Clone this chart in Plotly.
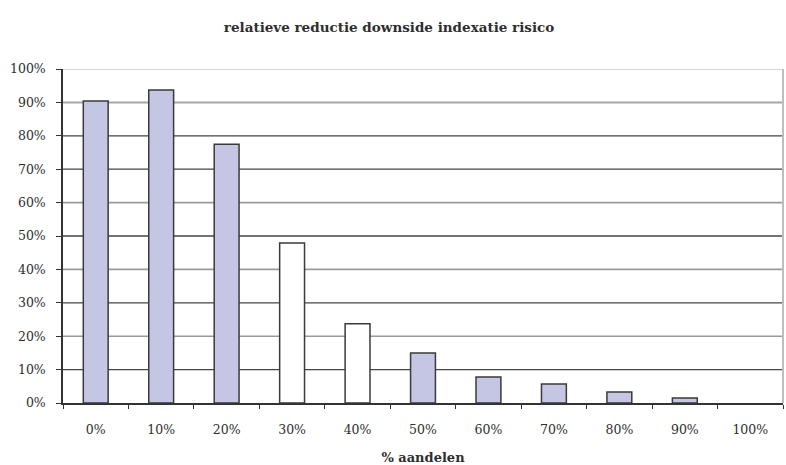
import plotly.graph_objects as go

# Share of equities in the portfolio and relative reduction of downside indexation risk
categories = ["0%", "10%", "20%", "30%", "40%", "50%", "60%", "70%", "80%", "90%", "100%"]
reduction = [0.904, 0.937, 0.775, 0.479, 0.237, 0.150, 0.078, 0.057, 0.033, 0.015, 0.0]
y_ticks = [i / 10 for i in range(11)]
y_tick_labels = [f"{i * 10}%" for i in range(11)]

# Bar styling: the 30% and 40% columns are drawn hollow; an empty bar gets no outline
LAVENDER = "#c4c6e3"
fill_colors = [LAVENDER, LAVENDER, LAVENDER, "#ffffff", "#ffffff",
               LAVENDER, LAVENDER, LAVENDER, LAVENDER, LAVENDER, LAVENDER]
outline_widths = [1.5 if v > 0 else 0 for v in reduction]

# Horizontal rule colours (10% ... 100%)
grid_colors = ["#454545", "#9a9a9a", "#454545", "#9a9a9a", "#454545",
               "#9a9a9a", "#454545", "#454545", "#a8a8a8", "#c8c8c8"]
grid_widths = [1.3, 1.6, 1.3, 1.6, 1.3, 1.6, 1.3, 1.3, 2.0, 1.3]

font_family = "DejaVu Serif"
text_color = "#2e2e2e"

fig = go.Figure(
    go.Bar(
        x=categories,
        y=reduction,
        marker=dict(color=fill_colors, line=dict(color="#3a3a3a", width=outline_widths)),
        width=0.38,
    )
)

shapes = []
for tick, color, lw in zip(y_ticks[1:], grid_colors, grid_widths):
    shapes.append(dict(type="line", xref="paper", yref="y", x0=0, x1=1, y0=tick, y1=tick,
                       line=dict(color=color, width=lw), layer="below"))
# light right-hand border of the plot area
shapes.append(dict(type="line", xref="paper", yref="paper", x0=1, x1=1, y0=0, y1=1,
                   line=dict(color="#bdbdbd", width=2), layer="below"))

fig.update_layout(
    width=786,
    height=465,
    margin=dict(l=63, r=3, t=69, b=62),
    paper_bgcolor="white",
    plot_bgcolor="white",
    showlegend=False,
    shapes=shapes,
    title=dict(
        text="<b>relatieve reductie downside indexatie risico</b>",
        x=0.495, xanchor="center", y=0.942, yanchor="middle",
        font=dict(family=font_family, size=13.5, color=text_color),
    ),
    font=dict(family=font_family, size=13, color=text_color),
)

fig.update_xaxes(
    type="category",
    showline=True, linecolor="#333333", linewidth=1.5,
    ticks="outside", tickson="boundaries", ticklen=4, tickcolor="#333333",
    showgrid=False,
    ticklabelstandoff=14,
    tickfont=dict(family=font_family, size=12.5, color=text_color),
    title=dict(text="<b>% aandelen</b>", font=dict(family=font_family, size=13, color=text_color), standoff=18),
    automargin=False,
)

fig.update_yaxes(
    range=[0, 1.0],
    tickvals=y_ticks, ticktext=y_tick_labels,
    showline=True, linecolor="#333333", linewidth=1.5,
    ticks="outside", ticklen=5, tickcolor="#333333",
    showgrid=False,
    zeroline=False,
    ticklabelstandoff=8,
    tickfont=dict(family=font_family, size=12.5, color=text_color),
    automargin=False,
)

fig.write_html("out.html")
